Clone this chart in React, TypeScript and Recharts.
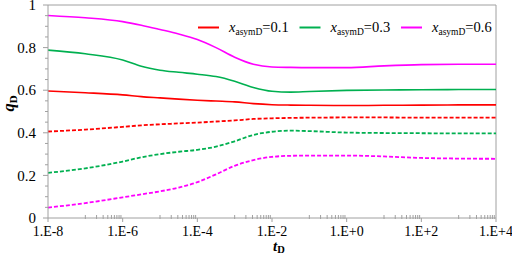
import React from 'react';
import { LineChart, Line, XAxis, YAxis, Legend, ReferenceLine } from 'recharts';

// log10(tD) sample positions
const tExp = [-8, -7, -6, -5.5, -5, -4.5, -4, -3.5, -3, -2.5, -2, -1.5, -1, 0, 1, 2, 3, 4];

// solid curves
const q01Solid = [0.596, 0.588, 0.578, 0.57, 0.564, 0.558, 0.553, 0.549, 0.545, 0.537, 0.532, 0.53, 0.529, 0.528, 0.529, 0.53, 0.531, 0.531];
const q03Solid = [0.788, 0.771, 0.742, 0.712, 0.694, 0.684, 0.675, 0.664, 0.642, 0.613, 0.595, 0.591, 0.594, 0.599, 0.601, 0.602, 0.603, 0.603];
const q06Solid = [0.951, 0.94, 0.922, 0.905, 0.885, 0.864, 0.838, 0.8, 0.755, 0.722, 0.709, 0.707, 0.706, 0.706, 0.714, 0.72, 0.722, 0.722];

// dashed curves
const q01Dash = [0.406, 0.415, 0.428, 0.435, 0.44, 0.444, 0.448, 0.453, 0.458, 0.465, 0.468, 0.47, 0.471, 0.472, 0.472, 0.471, 0.471, 0.471];
const q03Dash = [0.212, 0.233, 0.265, 0.285, 0.3, 0.311, 0.32, 0.335, 0.36, 0.39, 0.405, 0.41, 0.408, 0.401, 0.399, 0.398, 0.397, 0.397];
const q06Dash = [0.049, 0.07, 0.097, 0.111, 0.125, 0.143, 0.168, 0.205, 0.245, 0.272, 0.287, 0.292, 0.293, 0.293, 0.289, 0.282, 0.279, 0.278];

const legendValues = ['0.1', '0.3', '0.6'];
const colors = ['#FF0000', '#00B050', '#FF00FF'];

const xMajorTicks = [-8, -6, -4, -2, 0, 2, 4];
const xMinorDecades = [-7, -5, -3, -1, 1, 3];
const xMinorMultipliers = [1, 2, 3, 4, 5, 6, 7, 8, 9];
const yTicks = [0, 0.05, 0.1, 0.15, 0.2, 0.25, 0.3, 0.35, 0.4, 0.45, 0.5, 0.55, 0.6, 0.65, 0.7, 0.75, 0.8, 0.85, 0.9, 0.95, 1];
const yMajorLabels = [0, 0.2, 0.4, 0.6, 0.8, 1];

const data = tExp.map((e, i) => ({
  e,
  s1: q01Solid[i],
  s3: q03Solid[i],
  s6: q06Solid[i],
  d1: q01Dash[i],
  d3: q03Dash[i],
  d6: q06Dash[i],
}));

const xMinorTicks: number[] = [];
xMinorDecades.forEach((d) => xMinorMultipliers.forEach((k) => xMinorTicks.push(d + Math.log10(k))));
const xTicks = [...xMajorTicks, ...xMinorTicks].sort((a, b) => a - b);

const FONT = 'Liberation Serif, Tinos, Times New Roman, DejaVu Serif, serif';
const AXIS = '#A0A0A0';
const txt = { fontFamily: FONT };

const fmtX = (e: number) => (e >= 0 ? `1.E+${e}` : `1.E${e}`);

const XTick = (props: any) => {
  const { x, y, payload } = props;
  const v = payload.value;
  const isMajor = xMajorTicks.some((m) => Math.abs(m - v) < 1e-9);
  if (isMajor) {
    return (
      <g>
        <line x1={x} x2={x} y1={y} y2={y + 4} stroke={AXIS} strokeWidth={1} />
        <text x={x} y={y + 18} textAnchor="middle" style={txt} fontSize={14} fill="#000">
          {fmtX(v)}
        </text>
      </g>
    );
  }
  return <line x1={x} x2={x} y1={y - 3} y2={y + 1} stroke={AXIS} strokeWidth={1} />;
};

const YTick = (props: any) => {
  const { x, y, payload } = props;
  const v = payload.value;
  const isMajor = yMajorLabels.some((m) => Math.abs(m - v) < 1e-9);
  return (
    <g>
      <line x1={x} x2={x - (isMajor ? 5 : 3)} y1={y} y2={y} stroke={AXIS} strokeWidth={1} />
      {isMajor && (
        <text x={x - 12} y={y} dy="0.35em" textAnchor="end" style={txt} fontSize={15} fill="#000">
          {String(v)}
        </text>
      )}
    </g>
  );
};

const XLabel = (props: any) => {
  const vb = props.viewBox || {};
  const cx = vb.x + vb.width / 2 + 7;
  return (
    <text x={cx} y={vb.y + 33} textAnchor="middle" style={txt} fontSize={15} fontWeight="bold" fill="#000">
      <tspan fontStyle="italic">t</tspan>
      <tspan fontSize={10.5} dy={2}>D</tspan>
    </text>
  );
};

const YLabel = (props: any) => {
  const vb = props.viewBox || {};
  const cx = 14;
  const cy = vb.y + vb.height / 2 - 8;
  return (
    <text x={cx} y={cy} transform={`rotate(-90 ${cx} ${cy})`} textAnchor="middle" style={txt} fontSize={16.5} fontWeight="bold" fill="#000">
      <tspan fontStyle="italic">q</tspan>
      <tspan fontSize={11} dy={2.5}>D</tspan>
    </text>
  );
};

const LegendContent = (props: any) => {
  const items = (props.payload || []).filter((p: any) => p.type !== 'none');
  return (
    <svg width={312} height={26} style={{ display: 'block' }}>
      {items.map((it: any, i: number) => {
        const x0 = 8 + i * 101.5;
        return (
          <g key={i}>
            <line x1={x0} x2={x0 + 21} y1={12.5} y2={12.5} stroke={it.color} strokeWidth={2} />
            <text x={x0 + 31} y={16.7} style={txt} fontSize={14.5} fill="#000">
              <tspan fontStyle="italic">x</tspan>
              <tspan fontSize={9.5} dy={3.5}>asymD</tspan>
              <tspan dy={-3.5}>={it.value}</tspan>
            </text>
          </g>
        );
      })}
    </svg>
  );
};

export default function App() {
  return (
    <div style={{ position: 'absolute', left: 0, top: 0, width: 512, height: 255, background: '#fff' }}>
      <LineChart width={512} height={255} data={data} margin={{ top: 5, right: 16, bottom: 0, left: 0 }}>
        <XAxis
          dataKey="e"
          type="number"
          domain={[-8, 4]}
          ticks={xTicks}
          interval={0}
          tick={<XTick />}
          tickLine={false}
          tickSize={0}
          tickMargin={0}
          height={37}
          axisLine={{ stroke: AXIS }}
          allowDataOverflow
          label={<XLabel />}
        />
        <YAxis
          type="number"
          domain={[0, 1]}
          ticks={yTicks}
          interval={0}
          tick={<YTick />}
          tickLine={false}
          tickSize={0}
          tickMargin={0}
          width={48}
          axisLine={{ stroke: AXIS }}
          allowDataOverflow
          label={<YLabel />}
        />
        <ReferenceLine y={1} stroke={AXIS} strokeWidth={1} ifOverflow="extendDomain" />
        <ReferenceLine x={4} stroke={AXIS} strokeWidth={1} ifOverflow="extendDomain" />
        <Legend
          layout="horizontal"
          verticalAlign="middle"
          align="center"
          content={<LegendContent />}
          wrapperStyle={{ top: 15, left: 190, width: 312, height: 26 }}
        />
        <Line type="monotone" dataKey="s1" name={legendValues[0]} stroke={colors[0]} strokeWidth={1.6} dot={false} isAnimationActive={false} />
        <Line type="monotone" dataKey="s3" name={legendValues[1]} stroke={colors[1]} strokeWidth={1.6} dot={false} isAnimationActive={false} />
        <Line type="monotone" dataKey="s6" name={legendValues[2]} stroke={colors[2]} strokeWidth={1.6} dot={false} isAnimationActive={false} />
        <Line type="monotone" dataKey="d1" stroke={colors[0]} strokeWidth={1.8} strokeDasharray="4 2" dot={false} legendType="none" isAnimationActive={false} />
        <Line type="monotone" dataKey="d3" stroke={colors[1]} strokeWidth={1.8} strokeDasharray="4 2" dot={false} legendType="none" isAnimationActive={false} />
        <Line type="monotone" dataKey="d6" stroke={colors[2]} strokeWidth={1.8} strokeDasharray="4 2" dot={false} legendType="none" isAnimationActive={false} />
      </LineChart>
    </div>
  );
}
